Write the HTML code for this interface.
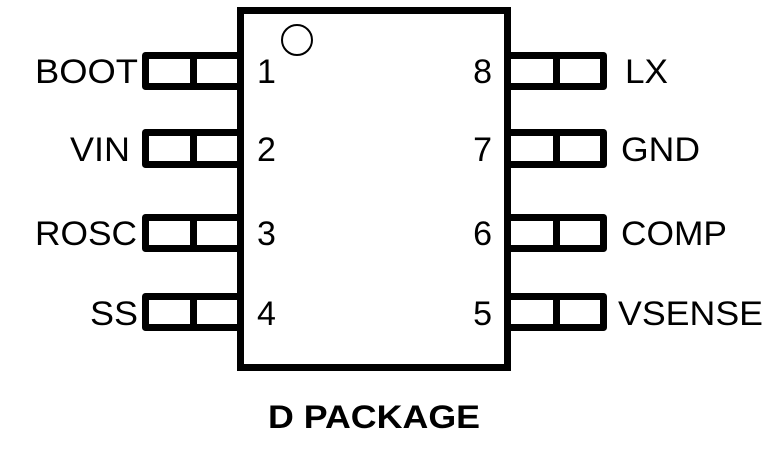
<!DOCTYPE html>
<html><head><style>body{margin:0;background:#fff}</style></head><body>
<svg width="778" height="453" viewBox="0 0 778 453" xmlns="http://www.w3.org/2000/svg" font-family="Liberation Sans, sans-serif">
<rect x="240.5" y="10.5" width="267" height="357" fill="none" stroke="#000" stroke-width="7"/>
<circle cx="297" cy="40" r="15" fill="none" stroke="#000" stroke-width="2"/>
<g fill="none" stroke="#000" stroke-width="7" stroke-linejoin="round">
<rect x="145.5" y="55.5" width="95" height="31"/><line x1="193.5" y1="55" x2="193.5" y2="87"/>
<rect x="145.5" y="132.5" width="95" height="32"/><line x1="193.5" y1="132" x2="193.5" y2="165"/>
<rect x="145.5" y="217.5" width="95" height="31"/><line x1="193.5" y1="217" x2="193.5" y2="249"/>
<rect x="145.5" y="296.5" width="95" height="31"/><line x1="193.5" y1="296" x2="193.5" y2="328"/>
<rect x="507.5" y="55.5" width="96" height="31"/><line x1="556.5" y1="55" x2="556.5" y2="87"/>
<rect x="507.5" y="132.5" width="96" height="32"/><line x1="556.5" y1="132" x2="556.5" y2="165"/>
<rect x="507.5" y="217.5" width="96" height="31"/><line x1="556.5" y1="217" x2="556.5" y2="249"/>
<rect x="507.5" y="296.5" width="96" height="31"/><line x1="556.5" y1="296" x2="556.5" y2="328"/>
</g>
<g font-size="34" fill="#000">
<text x="35" y="83" textLength="103" lengthAdjust="spacingAndGlyphs">BOOT</text>
<text x="70" y="161" textLength="60" lengthAdjust="spacingAndGlyphs">VIN</text>
<text x="35" y="245" textLength="102" lengthAdjust="spacingAndGlyphs">ROSC</text>
<text x="90" y="325" textLength="48" lengthAdjust="spacingAndGlyphs">SS</text>
<g text-anchor="end">
<text x="492" y="83">8</text><text x="492" y="161">7</text><text x="492" y="245">6</text><text x="492" y="325">5</text>
</g>
<text x="257" y="83">1</text><text x="257" y="161">2</text><text x="257" y="245">3</text><text x="257" y="325">4</text>
<text x="625" y="83" textLength="43" lengthAdjust="spacingAndGlyphs">LX</text>
<text x="621" y="161" textLength="79" lengthAdjust="spacingAndGlyphs">GND</text>
<text x="621" y="245" textLength="106" lengthAdjust="spacingAndGlyphs">COMP</text>
<text x="618" y="325" textLength="145" lengthAdjust="spacingAndGlyphs">VSENSE</text>
</g>
<text x="268" y="428" font-size="32" font-weight="bold" textLength="212" lengthAdjust="spacingAndGlyphs">D PACKAGE</text>
</svg>
</body></html>
